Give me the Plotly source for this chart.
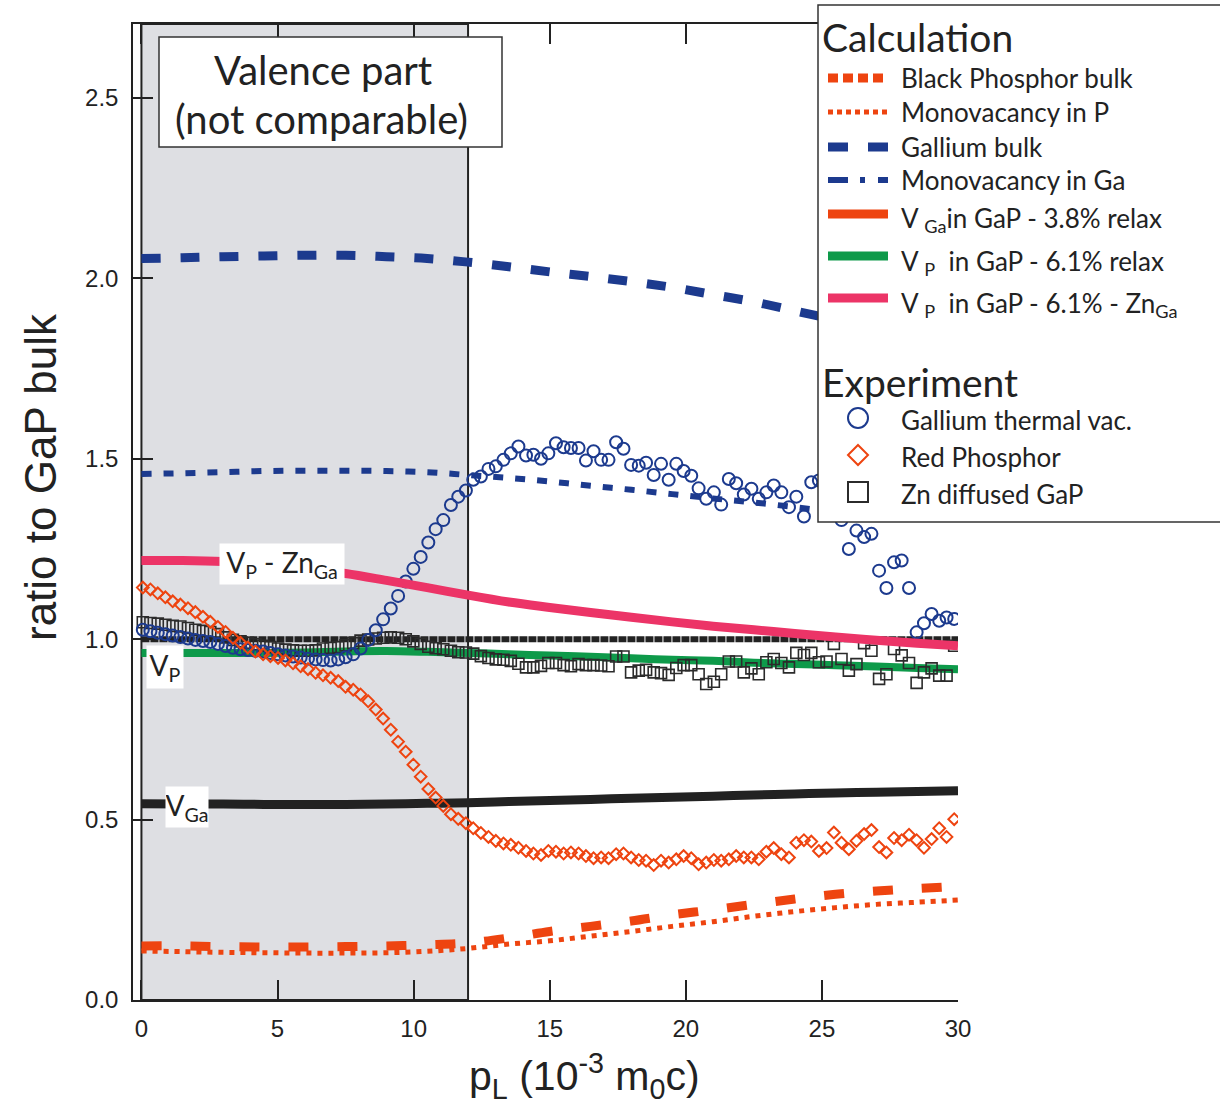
import plotly.graph_objects as go

# ---------------- data ----------------
# momentum grid of the experimental points (10^-3 m0c)
exp_x = [0.05, 0.33, 0.60, 0.88, 1.15, 1.43, 1.71, 1.98, 2.26, 2.53,
         2.81, 3.09, 3.36, 3.64, 3.91, 4.19, 4.47, 4.74, 5.02, 5.29,
         5.57, 5.85, 6.12, 6.40, 6.67, 6.95, 7.23, 7.50, 7.78, 8.05,
         8.33, 8.61, 8.88, 9.16, 9.43, 9.71, 9.99, 10.26, 10.54, 10.81,
         11.09, 11.37, 11.64, 11.92, 12.19, 12.47, 12.75, 13.02, 13.30, 13.57,
         13.85, 14.13, 14.40, 14.68, 14.95, 15.23, 15.51, 15.78, 16.06, 16.33,
         16.61, 16.89, 17.16, 17.44, 17.71, 17.99, 18.27, 18.54, 18.82, 19.09,
         19.37, 19.65, 19.92, 20.20, 20.47, 20.75, 21.03, 21.30, 21.58, 21.85,
         22.13, 22.41, 22.68, 22.96, 23.23, 23.51, 23.79, 24.06, 24.34, 24.61,
         24.89, 25.17, 25.44, 25.72, 25.99, 26.27, 26.55, 26.82, 27.10, 27.37,
         27.65, 27.93, 28.20, 28.48, 28.75, 29.03, 29.31, 29.58, 29.86]

gallium_thermal_vac = [1.026, 1.022, 1.018, 1.014, 1.010, 1.006, 1.002, 0.998, 0.995, 0.992,
                       0.987, 0.981, 0.976, 0.972, 0.970, 0.968, 0.966, 0.962, 0.958, 0.955,
                       0.952, 0.949, 0.946, 0.944, 0.942, 0.941, 0.944, 0.950, 0.958, 0.974,
                       0.998, 1.025, 1.055, 1.085, 1.120, 1.160, 1.195, 1.228, 1.268, 1.305,
                       1.330, 1.372, 1.395, 1.412, 1.442, 1.451, 1.472, 1.479, 1.497, 1.515,
                       1.534, 1.509, 1.511, 1.500, 1.515, 1.543, 1.532, 1.530, 1.530, 1.495,
                       1.521, 1.497, 1.497, 1.546, 1.528, 1.483, 1.481, 1.489, 1.455, 1.486,
                       1.442, 1.486, 1.466, 1.453, 1.418, 1.389, 1.407, 1.373, 1.444, 1.432,
                       1.401, 1.417, 1.389, 1.407, 1.426, 1.407, 1.366, 1.395, 1.340, 1.435,
                       1.440, 1.380, 1.360, 1.330, 1.250, 1.301, 1.283, 1.292, 1.190, 1.142,
                       1.213, 1.218, 1.142, 1.019, 1.044, 1.070, 1.051, 1.060, 1.056]

red_phosphor = [1.143, 1.138, 1.127, 1.116, 1.105, 1.096, 1.086, 1.075, 1.062, 1.048,
                1.034, 1.020, 1.004, 0.990, 0.977, 0.966, 0.958, 0.953, 0.948, 0.941,
                0.933, 0.925, 0.917, 0.907, 0.900, 0.893, 0.884, 0.868, 0.860, 0.847,
                0.828, 0.805, 0.780, 0.749, 0.716, 0.688, 0.652, 0.619, 0.585, 0.561,
                0.538, 0.515, 0.502, 0.490, 0.476, 0.463, 0.452, 0.441, 0.434, 0.430,
                0.422, 0.413, 0.406, 0.402, 0.413, 0.411, 0.406, 0.409, 0.406, 0.399,
                0.393, 0.395, 0.393, 0.404, 0.406, 0.395, 0.388, 0.386, 0.374, 0.386,
                0.381, 0.390, 0.399, 0.393, 0.376, 0.381, 0.388, 0.386, 0.390, 0.399,
                0.395, 0.395, 0.390, 0.411, 0.421, 0.404, 0.395, 0.436, 0.443, 0.439,
                0.413, 0.421, 0.464, 0.436, 0.418, 0.441, 0.460, 0.471, 0.424, 0.409,
                0.449, 0.443, 0.458, 0.443, 0.422, 0.446, 0.476, 0.452, 0.501]

zn_diffused_gap = [1.047, 1.045, 1.043, 1.040, 1.037, 1.035, 1.031, 1.026, 1.023, 1.020,
                   1.014, 1.005, 0.998, 0.994, 0.990, 0.986, 0.982, 0.978, 0.974, 0.971,
                   0.969, 0.968, 0.968, 0.969, 0.974, 0.976, 0.978, 0.983, 0.989, 0.996,
                   0.999, 1.002, 1.004, 1.005, 1.004, 1.000, 0.994, 0.987, 0.979, 0.975,
                   0.972, 0.968, 0.964, 0.963, 0.960, 0.953, 0.948, 0.944, 0.943, 0.940,
                   0.932, 0.922, 0.922, 0.926, 0.934, 0.934, 0.928, 0.925, 0.931, 0.928,
                   0.928, 0.927, 0.925, 0.952, 0.952, 0.908, 0.913, 0.915, 0.908, 0.906,
                   0.901, 0.920, 0.928, 0.928, 0.903, 0.876, 0.882, 0.903, 0.938, 0.938,
                   0.908, 0.919, 0.903, 0.936, 0.945, 0.934, 0.922, 0.962, 0.956, 0.962,
                   0.936, 0.938, 0.987, 0.945, 0.913, 0.931, 0.989, 0.968, 0.890, 0.903,
                   0.973, 0.955, 0.934, 0.879, 0.908, 0.919, 0.899, 0.899, 0.982]

# calculation grid
calc_x = [0, 1.5, 3, 4.5, 6, 7.5, 9, 10.5, 12, 13.5, 15,
          16.5, 18, 19.5, 21, 22.5, 24, 25.5, 27, 28.5, 30]
black_phosphor_bulk = [0.150, 0.150, 0.148, 0.147, 0.147, 0.148, 0.150, 0.153, 0.158, 0.172, 0.190,
                       0.204, 0.219, 0.236, 0.250, 0.265, 0.280, 0.293, 0.302, 0.309, 0.315]
monovacancy_p = [0.136, 0.134, 0.132, 0.131, 0.130, 0.130, 0.131, 0.135, 0.143, 0.155, 0.164,
                 0.177, 0.190, 0.204, 0.217, 0.232, 0.245, 0.256, 0.265, 0.271, 0.277]
gallium_bulk = [2.055, 2.057, 2.060, 2.062, 2.064, 2.064, 2.060, 2.055, 2.045, 2.032, 2.018,
                2.005, 1.991, 1.975, 1.955, 1.935, 1.910, 1.885, 1.860, 1.835, 1.810]
monovacancy_ga_x = [0, 1.5, 3, 4.5, 6, 7.5, 9, 10.5, 12, 13.5, 15,
                    16.5, 18, 19.5, 21, 22.5, 24, 25.5, 27]
monovacancy_ga = [1.458, 1.460, 1.463, 1.466, 1.467, 1.467, 1.466, 1.463, 1.455, 1.447, 1.437,
                  1.425, 1.414, 1.402, 1.390, 1.379, 1.366, 1.352, 1.338]
v_ga_relax = [0.544, 0.543, 0.543, 0.542, 0.542, 0.542, 0.543, 0.545, 0.547, 0.550, 0.553,
              0.556, 0.559, 0.562, 0.565, 0.568, 0.571, 0.574, 0.576, 0.578, 0.580]
v_p_relax = [0.962, 0.962, 0.962, 0.962, 0.963, 0.966, 0.967, 0.965, 0.962, 0.958, 0.955,
             0.951, 0.947, 0.943, 0.940, 0.935, 0.931, 0.928, 0.924, 0.920, 0.917]
v_p_zn = [1.218, 1.218, 1.215, 1.207, 1.196, 1.182, 1.163, 1.143, 1.122, 1.103, 1.088,
          1.074, 1.061, 1.048, 1.036, 1.026, 1.016, 1.006, 0.997, 0.989, 0.982]
gap_bulk = [1.0] * len(calc_x)

valence_range = [0, 12]
x_ticks = [0, 5, 10, 15, 20, 25, 30]
y_ticks = [0.0, 0.5, 1.0, 1.5, 2.0, 2.5]

# ---------------- style ----------------
BLUE = "#1c3a8e"
ORANGE = "#ee4410"
GREEN = "#0e9a4a"
PINK = "#ec3467"
BLACK = "#222222"
SHADE = "#dedfe3"
TXT_FONT = "Lato, 'Noto Sans', sans-serif"
AX_FONT = "'Liberation Sans', Arial, sans-serif"

# plot area in pixels
L, R, T, B = 133, 958, 24, 1000
PW, PH = R - L, B - T


def px(xp):
    return (xp - L) / PW


def py(yp):
    return (B - yp) / PH


fig = go.Figure()


def add_line(x, y, name, color, width, dash="solid", shape="spline"):
    fig.add_trace(go.Scatter(x=x, y=y, mode="lines", name=name, showlegend=False,
                             line=dict(color=color, width=width, dash=dash, shape=shape),
                             hoverinfo="skip"))


def add_markers(y, name, symbol, color, size, lw):
    fig.add_trace(go.Scatter(x=exp_x, y=y, mode="markers", name=name, showlegend=False,
                             marker=dict(symbol=symbol, size=size, color=color,
                                         line=dict(color=color, width=lw)),
                             hoverinfo="skip"))


add_line(calc_x, v_p_relax, "V_P in GaP - 6.1% relax", GREEN, 8)
add_line(calc_x, gap_bulk, "GaP bulk", BLACK, 6, dash="8px,1px", shape="linear")
add_markers(zn_diffused_gap, "Zn diffused GaP", "square-open", "#2b2b2b", 11, 1.6)
add_markers(gallium_thermal_vac, "Gallium thermal vac.", "circle-open", BLUE, 12, 2)
add_line(calc_x, v_p_zn, "V_P in GaP - 6.1% - Zn_Ga", PINK, 9)
add_line(calc_x, v_ga_relax, "V_Ga in GaP - 3.8% relax", BLACK, 9)
add_markers(red_phosphor, "Red Phosphor", "diamond-open", ORANGE, 9, 2)
add_line(calc_x, gallium_bulk, "Gallium bulk", BLUE, 9, dash="19px,20px")
add_line(monovacancy_ga_x, monovacancy_ga, "Monovacancy in Ga", BLUE, 6, dash="10px,12px")
add_line(calc_x, black_phosphor_bulk, "Black Phosphor bulk", ORANGE, 9, dash="20px,29px")
add_line(calc_x, monovacancy_p, "Monovacancy in P", ORANGE, 5, dash="5px,6px")

shapes = []
# valence region shading
shapes.append(dict(type="rect", xref="x", yref="y", x0=valence_range[0], x1=valence_range[1],
                   y0=0, y1=2.705, fillcolor=SHADE, line=dict(color=BLACK, width=2),
                   layer="below"))

annotations = []
# "Valence part (not comparable)" box
shapes.append(dict(type="rect", xref="paper", yref="paper", x0=px(159), x1=px(502),
                   y0=py(147), y1=py(37), fillcolor="white",
                   line=dict(color="#333333", width=1.5), layer="above"))
annotations.append(dict(x=px(323), y=py(70), xref="paper", yref="paper", showarrow=False,
                        xanchor="center", yanchor="middle", text="Valence part",
                        font=dict(family=TXT_FONT, size=40, color=BLACK)))
annotations.append(dict(x=px(321), y=py(119), xref="paper", yref="paper", showarrow=False,
                        xanchor="center", yanchor="middle", text="(not comparable)",
                        font=dict(family=TXT_FONT, size=40, color=BLACK)))

annotations.append(dict(x=5.18, y=1.209, xref="x", yref="y", showarrow=False,
                        text="V<sub>P</sub> - Zn<sub>Ga</sub>",
                        font=dict(family=TXT_FONT, size=28, color=BLACK),
                        bgcolor="white", borderpad=0, width=124, height=40))
annotations.append(dict(x=0.86, y=0.924, xref="x", yref="y", showarrow=False,
                        text="V<sub>P</sub>",
                        font=dict(family=TXT_FONT, size=28, color=BLACK),
                        bgcolor="white", borderpad=0, width=36, height=42))
annotations.append(dict(x=1.67, y=0.535, xref="x", yref="y", showarrow=False,
                        text="V<sub>Ga</sub>",
                        font=dict(family=TXT_FONT, size=28, color=BLACK),
                        bgcolor="white", borderpad=0, width=42, height=40))

# axis titles
annotations.append(dict(x=px(40), y=py(477), xref="paper", yref="paper", showarrow=False,
                        textangle=-90, xanchor="center", yanchor="middle",
                        text="ratio to GaP bulk",
                        font=dict(family=AX_FONT, size=44, color=BLACK)))
annotations.append(dict(x=px(584), y=py(1076), xref="paper", yref="paper", showarrow=False,
                        xanchor="center", yanchor="middle",
                        text="p<sub>L</sub> (10<sup>-3</sup> m<sub>0</sub>c)",
                        font=dict(family=AX_FONT, size=41, color=BLACK)))

# ---------------- hand-built legend ----------------
shapes.append(dict(type="rect", xref="paper", yref="paper", x0=px(818), x1=px(1224),
                   y0=py(522), y1=py(5), fillcolor="white",
                   line=dict(color="#333333", width=1.5), layer="above"))

annotations.append(dict(x=px(820), y=py(37), xref="paper", yref="paper", showarrow=False,
                        xanchor="left", yanchor="middle", text="Calculation",
                        font=dict(family=TXT_FONT, size=39, color=BLACK)))
annotations.append(dict(x=px(820), y=py(382), xref="paper", yref="paper", showarrow=False,
                        xanchor="left", yanchor="middle", text="Experiment",
                        font=dict(family=TXT_FONT, size=39, color=BLACK)))

calc_items = [
    ("Black Phosphor bulk", ORANGE, 9, "10px,5px", 78, 0),
    ("Monovacancy in P", ORANGE, 5, "5px,4px", 112, 0),
    ("Gallium bulk", BLUE, 9, "20px,20px", 147, 0),
    ("Monovacancy in Ga", BLUE, 6, "20px,12px,5px,13px", 180, 0),
    ("V <sub>Ga</sub>in GaP - 3.8% relax", ORANGE, 9, "solid", 214, 6),
    ("V <sub>P</sub>&nbsp; in GaP - 6.1% relax", GREEN, 9, "solid", 256, 6),
    ("V <sub>P</sub>&nbsp; in GaP - 6.1% - Zn<sub>Ga</sub>", PINK, 9, "solid", 298, 6),
]
for label, color, w, dash, yrow, off in calc_items:
    shapes.append(dict(type="line", xref="paper", yref="paper", x0=px(828), x1=px(888),
                       y0=py(yrow), y1=py(yrow), line=dict(color=color, width=w, dash=dash),
                       layer="above"))
    annotations.append(dict(x=px(899), y=py(yrow + off), xref="paper", yref="paper",
                            showarrow=False, xanchor="left", yanchor="middle", text=label,
                            font=dict(family=TXT_FONT, size=26, color=BLACK)))

# experiment legend symbols
cx = 858
shapes.append(dict(type="circle", xref="paper", yref="paper", x0=px(cx - 10), x1=px(cx + 10),
                   y0=py(428), y1=py(408), line=dict(color=BLUE, width=2), layer="above"))
dy = 455
shapes.append(dict(type="path", xref="paper", yref="paper",
                   path=f"M {px(cx)},{py(dy - 10)} L {px(cx + 10)},{py(dy)} "
                        f"L {px(cx)},{py(dy + 10)} L {px(cx - 10)},{py(dy)} Z",
                   line=dict(color=ORANGE, width=2), layer="above"))
shapes.append(dict(type="rect", xref="paper", yref="paper", x0=px(cx - 10), x1=px(cx + 10),
                   y0=py(502), y1=py(482), line=dict(color="#2b2b2b", width=2), layer="above"))
for label, yrow in [("Gallium thermal vac.", 420), ("Red Phosphor", 457), ("Zn diffused GaP", 494)]:
    annotations.append(dict(x=px(899), y=py(yrow), xref="paper", yref="paper",
                            showarrow=False, xanchor="left", yanchor="middle", text=label,
                            font=dict(family=TXT_FONT, size=26, color=BLACK)))

fig.update_layout(
    width=1220, height=1111,
    margin=dict(l=L, r=1220 - R, t=T, b=1111 - B, autoexpand=False),
    paper_bgcolor="white", plot_bgcolor="white",
    showlegend=False,
    shapes=shapes, annotations=annotations,
    xaxis=dict(range=[-0.31, 30], tickvals=x_ticks, ticks="inside", ticklen=20,
               tickwidth=1.5, tickcolor=BLACK, showline=True, linecolor=BLACK, linewidth=1.5,
               mirror="ticks", showgrid=False, zeroline=False, ticklabelstandoff=6,
               tickfont=dict(family=AX_FONT, size=24, color=BLACK)),
    yaxis=dict(range=[0, 2.705], tickvals=y_ticks, tickformat=".1f", ticks="inside",
               ticklen=20, tickwidth=1.5, tickcolor=BLACK, showline=True, linecolor=BLACK,
               linewidth=1.5, showgrid=False, zeroline=False, ticklabelstandoff=8,
               tickfont=dict(family=AX_FONT, size=24, color=BLACK)),
)

fig.write_html("out.html")
